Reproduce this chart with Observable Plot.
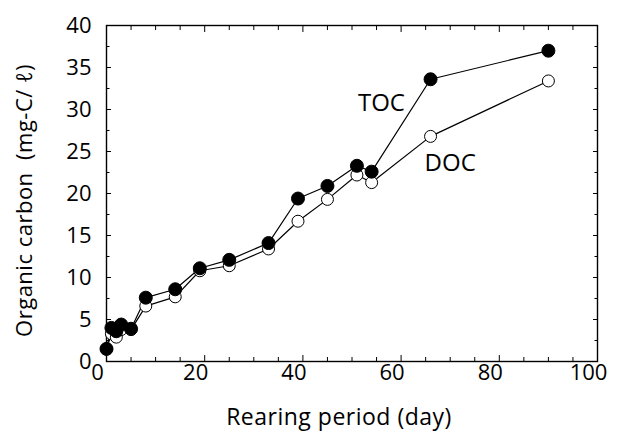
<!DOCTYPE html>
<html>
<head>
<meta charset="utf-8">
<script src="https://cdn.jsdelivr.net/npm/d3@7"></script>
<script src="https://cdn.jsdelivr.net/npm/@observablehq/plot@0.6"></script>
<style>
  html, body { margin: 0; padding: 0; background: #fff; }
  #chart { position: absolute; left: 0; top: 0; }
  .title { letter-spacing: 0.5px; }
</style>
</head>
<body>
<div id="chart"></div>
<script>
// Rearing period (day)
const days = [0, 1, 2, 3, 5, 8, 14, 19, 25, 33, 39, 45, 51, 54, 66, 90];
// Total organic carbon (mg-C/ℓ)
const toc = [1.5, 4.0, 3.6, 4.4, 3.9, 7.6, 8.6, 11.1, 12.1, 14.1, 19.4, 20.9, 23.3, 22.6, 33.6, 37.0];
// Dissolved organic carbon (mg-C/ℓ)
const doc = [1.5, 3.3, 2.9, 3.8, 3.8, 6.6, 7.7, 10.8, 11.4, 13.4, 16.7, 19.3, 22.2, 21.3, 26.8, 33.4];

const xTicks = [0, 20, 40, 60, 80, 100];
const xMinorTicks = [5, 10, 15, 25, 30, 35, 45, 50, 55, 65, 70, 75, 85, 90, 95];
const yTicks = [0, 5, 10, 15, 20, 25, 30, 35, 40];
const yMinorTicks = [2.5, 7.5, 12.5, 17.5, 22.5, 27.5, 32.5, 37.5];

const seriesNames = ["TOC", "DOC"];
const seriesLabelX = [56, 70];
const seriesLabelY = [30.7, 23.6];

const xTitle = "Rearing period (day)";
const yTitle = "Organic carbon  (mg-C/ ℓ)";

const tocRows = days.map((d, i) => ({day: d, value: toc[i]}));
const docRows = days.map((d, i) => ({day: d, value: doc[i]}));
const labelRows = seriesNames.map((n, i) => ({name: n, x: seriesLabelX[i], y: seriesLabelY[i]}));

const font = "'Open Sans', sans-serif";

const chart = Plot.plot({
  width: 618,
  height: 439,
  marginLeft: 106,
  marginRight: 21,
  marginTop: 25,
  marginBottom: 78,
  x: {domain: [0, 100]},
  y: {domain: [0, 40]},
  style: {fontFamily: font, fontSize: "22px", color: "black", background: "white", overflow: "visible"},
  marks: [
    Plot.frame({stroke: "black", strokeWidth: 1.4}),
    // inward ticks
    Plot.axisX({ticks: xTicks, tickSize: -6, tickFormat: () => "", label: null, strokeWidth: 1}),
    Plot.axisX({ticks: xMinorTicks, tickSize: -4, tickFormat: () => "", label: null, strokeWidth: 1}),
    Plot.axisX({anchor: "top", ticks: xTicks, tickSize: -6, tickFormat: () => "", label: null, strokeWidth: 1}),
    Plot.axisX({anchor: "top", ticks: xMinorTicks, tickSize: -4, tickFormat: () => "", label: null, strokeWidth: 1}),
    Plot.axisY({ticks: yTicks, tickSize: -5, tickFormat: () => "", label: null, strokeWidth: 1}),
    Plot.axisY({ticks: yMinorTicks, tickSize: -3.5, tickFormat: () => "", label: null, strokeWidth: 1}),
    Plot.axisY({anchor: "right", ticks: yTicks, tickSize: -5, tickFormat: () => "", label: null, strokeWidth: 1}),
    Plot.axisY({anchor: "right", ticks: yMinorTicks, tickSize: -3.5, tickFormat: () => "", label: null, strokeWidth: 1}),
    // tick labels
    Plot.axisX({ticks: xTicks, tickSize: 0, tickPadding: 3, label: null, fontSize: 22, dx: -9}),
    Plot.axisY({ticks: yTicks, tickSize: 0, tickPadding: 15, label: null, fontSize: 22}),
    // axis titles
    Plot.text([xTitle], {frameAnchor: "bottom", dy: 56, dx: -13, fontSize: 23, lineAnchor: "middle", className: "title"}),
    Plot.text([yTitle], {frameAnchor: "left", textAnchor: "middle", dx: -82, dy: 7, rotate: -90, fontSize: 22, lineAnchor: "middle", className: "title"}),
    // data
    Plot.line(docRows, {x: "day", y: "value", stroke: "black", strokeWidth: 1.2}),
    Plot.line(tocRows, {x: "day", y: "value", stroke: "black", strokeWidth: 1.2}),
    Plot.dot(docRows, {x: "day", y: "value", r: 6, fill: "white", stroke: "black", strokeWidth: 1}),
    Plot.dot(tocRows, {x: "day", y: "value", r: 6.5, fill: "black", stroke: "black", strokeWidth: 1}),
    // series labels
    Plot.text(labelRows, {x: "x", y: "y", text: "name", fontSize: 24})
  ]
});
document.getElementById("chart").appendChild(chart);
</script>
</body>
</html>
